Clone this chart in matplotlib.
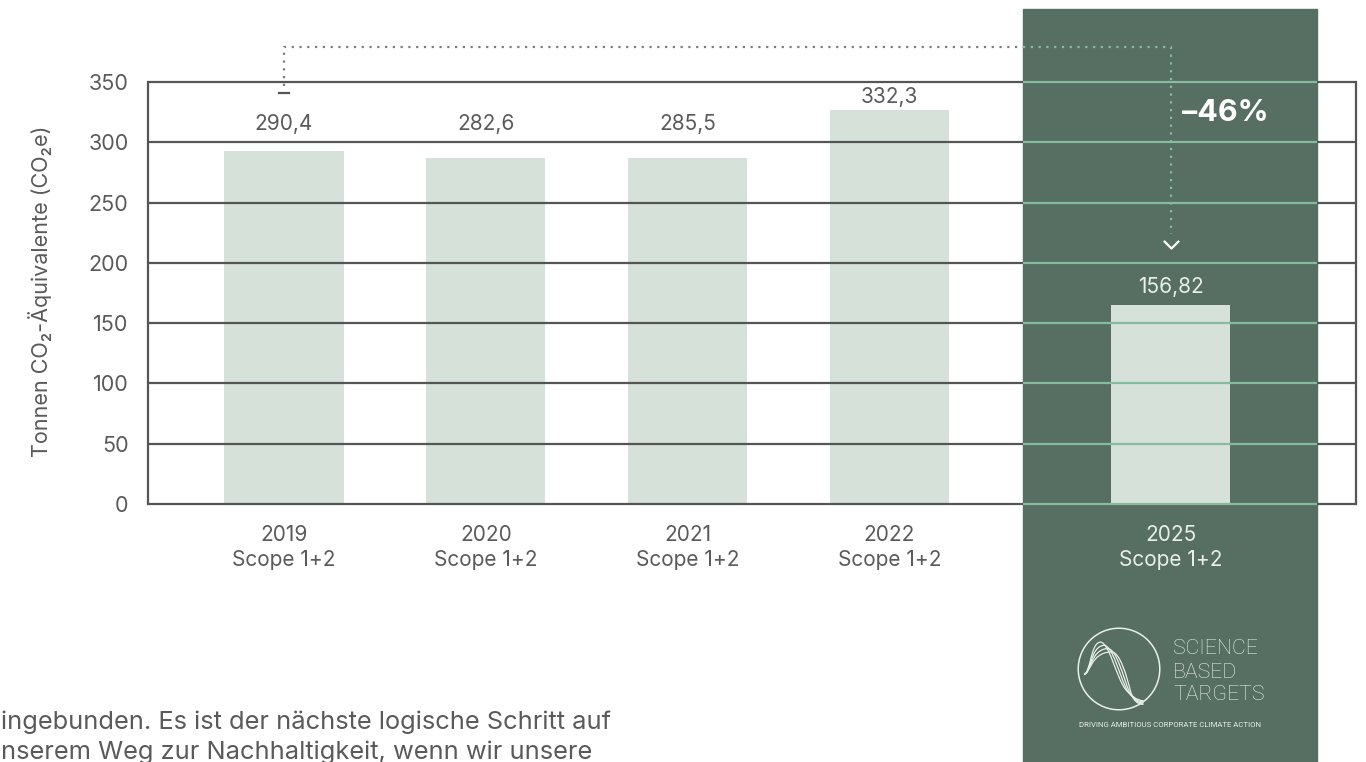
import numpy as np
import matplotlib
matplotlib.use('Agg')
import matplotlib.pyplot as plt
from matplotlib.patches import Rectangle, Circle, PathPatch
from matplotlib.path import Path

plt.rcParams['font.family'] = ['Inter', 'DejaVu Sans']

W, H = 1366, 762

# data
years = ['2019', '2020', '2021', '2022', '2025']
scope = ['Scope 1+2'] * 5
bar_heights = [293, 287, 287, 327, 165]
value_labels = ['290,4', '282,6', '285,5', '332,3', '156,82']
yticks = [0, 50, 100, 150, 200, 250, 300, 350]
reduction = '–46%'

# layout
x_pos = [0, 1, 2, 3, 4.393]
label_off = [19.5, 24.5, 24.5, 9.5, 13]   # points above bar top
XLIM = (-0.674, 5.312)
PANEL_PX = (1023, 1317)
PX_PER_UNIT = 422 / 350

DARK = '#555555'
TXT = '#5a5a5a'
BAR = '#d5e1d9'
PANEL = '#566f62'
MINT = '#86bb9f'
LIGHT = '#e8efea'


def fx(px):
    return px / W


def fy(py):
    return 1 - py / H


def dx(px):
    return XLIM[0] + (px - 148) / (1356 - 148) * (XLIM[1] - XLIM[0])


def dy(py):
    return (504 - py) / PX_PER_UNIT


fig = plt.figure(figsize=(W / 100, H / 100), dpi=100)
fig.patches.append(Rectangle((fx(PANEL_PX[0]), 0), fx(PANEL_PX[1]) - fx(PANEL_PX[0]), fy(9),
                             transform=fig.transFigure, color=PANEL, zorder=-5))

ax = fig.add_axes([fx(148), fy(504), fx(1356) - fx(148), fy(82) - fy(504)])
ax.set_facecolor('none')
ax.set_xlim(XLIM)
ax.set_ylim(0, 350)

ax.bar(x_pos, bar_heights, width=0.59, color=BAR, zorder=1)

p0, p1 = dx(PANEL_PX[0]), dx(PANEL_PX[1])
for y in yticks:
    ax.plot([XLIM[0], p0], [y, y], color=DARK, lw=1.6, zorder=2, clip_on=False, solid_capstyle='butt')
    ax.plot([p0, p1], [y, y], color=MINT, lw=1.6, zorder=2, clip_on=False, solid_capstyle='butt')
    ax.plot([p1, XLIM[1]], [y, y], color=DARK, lw=1.6, zorder=2, clip_on=False, solid_capstyle='butt')

for s in ['top', 'bottom']:
    ax.spines[s].set_visible(False)
for s in ['left', 'right']:
    ax.spines[s].set_color(DARK)
    ax.spines[s].set_linewidth(1.6)

ax.set_yticks(yticks)
ax.set_yticklabels([str(t) for t in yticks], fontsize=15.5, color=TXT)
ax.tick_params(axis='y', length=0, pad=14)
ax.set_xticks(x_pos)
ax.set_xticklabels([f'{y}\n{s}' for y, s in zip(years, scope)], fontsize=15, color=TXT, linespacing=1.3)
ax.tick_params(axis='x', length=0, pad=15)
ax.get_xticklabels()[-1].set_color(LIGHT)

ax.set_ylabel('Tonnen CO₂-Äquivalente (CO₂e)', fontsize=15.5, color=TXT)
ax.yaxis.set_label_coords((52 - 148) / (1356 - 148), (504 - 291) / 422)

for x, h, lab, off, i in zip(x_pos, bar_heights, value_labels, label_off, range(5)):
    ax.annotate(lab, (x, h), xytext=(0, off), textcoords='offset points', ha='center', va='center',
                fontsize=15, color=LIGHT if i == 4 else TXT)

# dotted connector 2019 -> 2025
dots = dict(lw=1.6, linestyle=(0, (1, 2.5)), clip_on=False, zorder=3)
ax.plot([x_pos[0], x_pos[0], p0], [dy(86), dy(47), dy(47)], color='#7d7d7d', **dots)
ax.plot([p0, x_pos[-1], x_pos[-1]], [dy(47), dy(47), dy(234)], color=MINT, **dots)
ax.plot([x_pos[0] - 0.025, x_pos[0] + 0.025], [dy(93), dy(93)], color=DARK, lw=1.6, clip_on=False)
chev = Path([(-1, 1), (0, 0), (1, 1)], [Path.MOVETO, Path.LINETO, Path.LINETO])
ax.plot([x_pos[-1]], [dy(248)], marker=chev, markersize=11, markerfacecolor='none',
        markeredgecolor='white', markeredgewidth=1.6, clip_on=False, zorder=4)

fig.text(fx(1182), fy(113), reduction, fontsize=22, fontweight='bold', color='white', ha='left', va='center')

# SBTi logo
lax = fig.add_axes([fx(1077), fy(711), fx(84), 84 / H])
lax.set_xlim(-1.03, 1.03)
lax.set_ylim(-1.03, 1.03)
lax.axis('off')
lax.add_patch(Circle((0, 0), 1, fill=False, ec=LIGHT, lw=1.1))
for k in range(4):
    sx, sy = 0.09 * k, -0.08 * k
    verts = [(-0.86, -0.13), (-0.70, -0.12), (-0.70, 0.64 + sy), (-0.46 + sx, 0.66 + sy),
             (-0.24 + sx, 0.66 + sy), (-0.08 + sx, -0.18), (0.16 + sx * 0.5, -0.50 - 0.03 * k),
             (0.30 + sx * 0.3, -0.66 - 0.04 * k), (0.42, -0.76 - 0.03 * k), (0.60, -0.78 - 0.03 * k)]
    codes = [Path.MOVETO] + [Path.CURVE4] * 9
    lax.add_patch(PathPatch(Path(verts, codes), fill=False, ec=LIGHT, lw=0.9))

for line, py in zip(['SCIENCE', 'BASED', 'TARGETS'], [649, 672, 695]):
    fig.text(fx(1173), fy(py), line, fontsize=15.3, color=LIGHT, ha='left', va='center',
             family=['Liberation Sans Narrow', 'Roboto', 'DejaVu Sans'], fontweight='light')
fig.text(fx(1170), fy(725), 'DRIVING AMBITIOUS CORPORATE CLIMATE ACTION', fontsize=5.6, color=LIGHT,
         ha='center', va='center', family=['Liberation Sans Narrow', 'Roboto', 'DejaVu Sans'])

# body text cut at the bottom
fig.text(fx(1), fy(722), 'ingebunden. Es ist der nächste logische Schritt auf', fontsize=18.3, color=TXT,
         ha='left', va='center')
fig.text(fx(1), fy(752), 'nserem Weg zur Nachhaltigkeit, wenn wir unsere', fontsize=18.3, color=TXT,
         ha='left', va='center')

fig.savefig('out.png', dpi=100)
